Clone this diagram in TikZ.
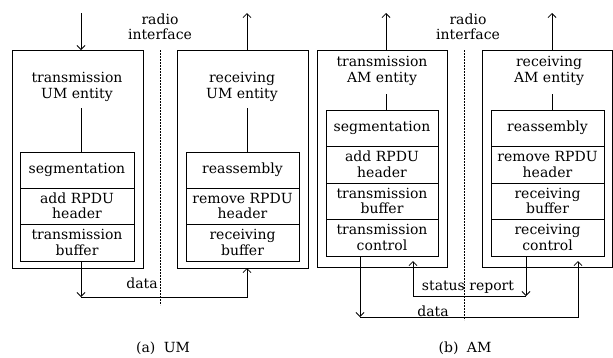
\documentclass[tikz,border=0pt]{standalone}
\usepackage{fontspec}
\setmainfont{DejaVu Serif}
\usetikzlibrary{arrows.meta}
\begin{document}
\begin{tikzpicture}[x=1pt,y=-1pt,
  every node/.style={inner sep=0pt,outer sep=0pt},
  lw/.style={line width=0.8pt},
  box/.style={draw,lw,anchor=north west},
  cell/.style={draw,lw,anchor=north west,align=center,font=\fontsize{14}{15.5}\selectfont},
  lbl/.style={align=center,font=\fontsize{14}{15.5}\selectfont},
  arr/.style={lw,-{Straight Barb[length=4pt,width=8pt]}},
  radio/.style={lw,dash pattern=on 2pt off 1pt}
]
\useasboundingbox (0,0) rectangle (613,357);

% ---------- (a) UM ----------
\node[box,minimum width=131,minimum height=218] (uT) at (12,50) {};
\node[box,minimum width=131,minimum height=218] (uR) at (177,50) {};
\node[lbl] (uTe) at (77,87) {transmission\\UM entity};
\node[lbl] (uRe) at (242,87) {receiving\\UM entity};

\node[cell,minimum width=114,minimum height=36] (uT1) at (20,152) {segmentation};
\node[cell,minimum width=114,minimum height=36] (uT2) at (20,188) {add RPDU\\header};
\node[cell,minimum width=114,minimum height=37] (uT3) at (20,224) {transmission\\buffer};
\node[cell,minimum width=113,minimum height=36] (uR1) at (186,152) {reassembly};
\node[cell,minimum width=113,minimum height=36] (uR2) at (186,188) {remove RPDU\\header};
\node[cell,minimum width=113,minimum height=37] (uR3) at (186,224) {receiving\\buffer};

\coordinate (uTin) at (81,13);
\coordinate (uTl) at (81,108);
\coordinate (uRout) at (247,13);
\coordinate (uRl) at (247,108);
\draw[arr] (uTin) -- (uTin |- uT.north);
\draw[lw] (uTl) -- (uTl |- uT1.north);
\draw[arr] (uRout |- uR.north) -- (uRout);
\draw[lw] (uRl) -- (uRl |- uR1.north);

\coordinate (uD1) at (160,50);
\coordinate (uD2) at (160,305);
\draw[radio] (uD1) -- (uD2);
\node[lbl] (uRad) at (160,27) {radio\\interface};

\coordinate (uData) at (81,297);
\draw[arr] (uT3.south -| uData) -- (uData);
\draw[arr] (uData) -- (uData -| uRout) -- (uRout |- uR.south);
\node[lbl] (uDataL) at (142,283) {data};
\node[lbl] (uCap) at (163,348) {(a)\hspace{0.6em}UM};

% ---------- (b) AM ----------
\node[box,minimum width=130,minimum height=217] (aT) at (317,50) {};
\node[box,minimum width=130,minimum height=217] (aR) at (482,50) {};
\node[lbl] (aTe) at (382,71) {transmission\\AM entity};
\node[lbl] (aRe) at (549,71) {receiving\\AM entity};

\node[cell,minimum width=112,minimum height=36] (aT1) at (326,110) {segmentation};
\node[cell,minimum width=112,minimum height=37] (aT2) at (326,146) {add RPDU\\header};
\node[cell,minimum width=112,minimum height=36] (aT3) at (326,183) {transmission\\buffer};
\node[cell,minimum width=112,minimum height=37] (aT4) at (326,219) {transmission\\control};
\node[cell,minimum width=113,minimum height=36] (aR1) at (491,110) {reassembly};
\node[cell,minimum width=113,minimum height=37] (aR2) at (491,146) {remove RPDU\\header};
\node[cell,minimum width=113,minimum height=36] (aR3) at (491,183) {receiving\\buffer};
\node[cell,minimum width=113,minimum height=37] (aR4) at (491,219) {receiving\\control};

\coordinate (aTout) at (386,13);
\coordinate (aTl) at (386,94);
\coordinate (aRout) at (552,13);
\coordinate (aRl) at (552,94);
\draw[arr] (aTout |- aT.north) -- (aTout);
\draw[lw] (aTl) -- (aTl |- aT1.north);
\draw[arr] (aRout |- aR.north) -- (aRout);
\draw[lw] (aRl) -- (aRl |- aR1.north);

\coordinate (aD1) at (464,50);
\coordinate (aD2) at (464,320);
\draw[radio] (aD1) -- (aD2);
\node[lbl] (aRad) at (468,27) {radio\\interface};

% data
\coordinate (aData) at (360,317);
\coordinate (aDataEnd) at (578,261);
\draw[arr] (aT4.south -| aData) -- (aData);
\draw[arr] (aData) -- (aData -| aDataEnd) -- (aDataEnd);
\node[lbl] (aDataL) at (433,311) {data};
% status report
\coordinate (aSt) at (526,296);
\coordinate (aStEnd) at (413,261);
\draw[arr] (aR4.south -| aSt) -- (aSt);
\draw[arr] (aSt) -- (aSt -| aStEnd) -- (aStEnd);
\node[lbl] (aStL) at (468,287) {status report};
\node[lbl] (aCap) at (465,348) {(b)\hspace{0.6em}AM};
\end{tikzpicture}
\end{document}
